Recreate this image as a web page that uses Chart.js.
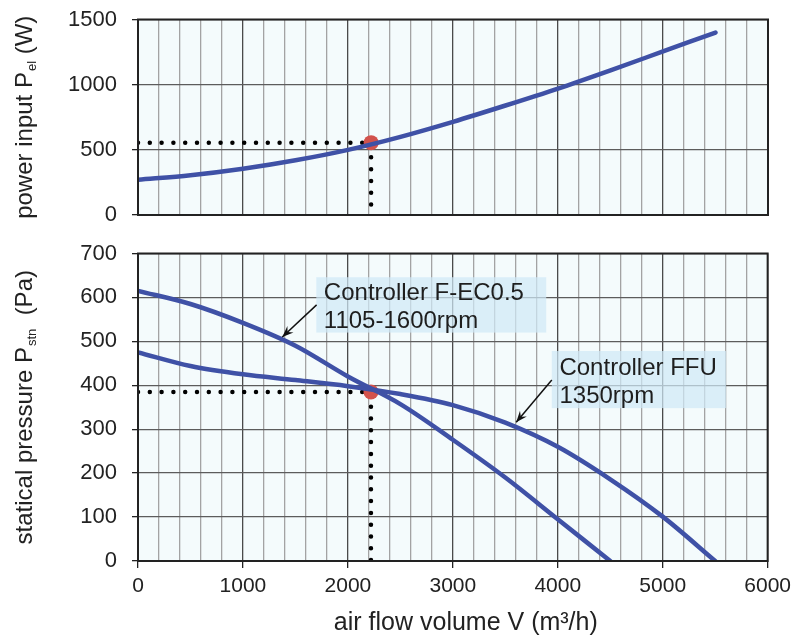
<!DOCTYPE html>
<html><head><meta charset="utf-8">
<script src="https://cdn.jsdelivr.net/npm/chart.js@4/dist/chart.umd.min.js"></script>
<style>
html,body{margin:0;padding:0;background:#fff;width:797px;height:639px;overflow:hidden;}
canvas{position:absolute;left:0;}
#c1{top:0;}
#c2{top:232px;}
</style></head><body>
<canvas id="c1" width="797" height="240"></canvas>
<canvas id="c2" width="797" height="407"></canvas>
<script>
// ---- data ----
const flow = [0, 500, 1000, 1500, 2000, 2500, 3000, 3500, 4000, 4500, 5000, 5500];
const powerInput = [270, 305, 355, 420, 500, 600, 715, 840, 970, 1110, 1255, 1400];
const flowFEC = [0, 500, 1000, 1500, 2000, 2500, 3000, 3500, 4000, 4500];
const pressureFEC = [615, 585, 542, 490, 420, 357, 276, 190, 95, 0];
const pressureFFU = [475, 444, 425, 412, 398, 380, 355, 315, 260, 186, 101, 0];
const opFlow = 2220;
const opPower = 555;
const opPressure = 385;
const xMax = 6000;
const powerMax = 1500, powerStep = 500;
const pressureMax = 700, pressureStep = 100;
const topTitle = ['power input P', 'el', ' (W)'];
const bottomTitle = ['statical pressure P', 'stn', '  (Pa)'];
const xTitle = 'air flow volume V (m\u00B3/h)';
const noteFEC = ['Controller F-EC0.5', '1105-1600rpm'];
const noteFFU = ['Controller FFU', '1350rpm'];

// ---- styling ----
const FONT = '"Liberation Sans", Arial, Helvetica, sans-serif';
const BLUE = '#3f51a6';
const RED = '#d2524c';
const PLOT_BG = '#f4fbfc';
const LEFT = 138, RIGHT_PAD = 797 - 768;

const pts = (xs, ys) => xs.map((x, i) => ({x, y: ys[i]}));

function xScale(showLabels) {
  return {
    type: 'linear', min: 0, max: xMax,
    ticks: {
      display: showLabels, stepSize: 200, autoSkip: false, maxRotation: 0,
      color: '#222', font: {family: FONT, size: 21}, padding: 6,
      callback: v => (Math.round(v) % 1000 === 0 ? String(v) : '')
    },
    grid: {
      color: c => (c.tick && Math.round(c.tick.value) % 1000 === 0 ? '#4a4a4a' : '#a3a3a3'),
      lineWidth: 1.3,
      drawTicks: showLabels, tickLength: 7,
      tickColor: c => (c.tick && Math.round(c.tick.value) % 1000 === 0 ? '#222' : 'rgba(0,0,0,0)')
    },
    border: {display: true, color: '#222', width: 2},
    title: {display: false},
    afterFit: s => { s.height = showLabels ? 78 : 25; }
  };
}
function yScale(max, step) {
  return {
    type: 'linear', min: 0, max: max,
    ticks: {stepSize: step, color: '#222', font: {family: FONT, size: 22, lineHeight: 0.2}, padding: 15,
            callback: v => String(v)},
    grid: {color: '#5c5c5c', lineWidth: 1.3, tickLength: 6, tickColor: '#222'},
    border: {display: true, color: '#222', width: 2},
    afterFit: s => { s.width = LEFT; }
  };
}

function drawYTitle(chart, parts, cx) {
  const ctx = chart.ctx, a = chart.chartArea;
  ctx.save();
  ctx.translate(cx, (a.top + a.bottom) / 2);
  ctx.rotate(-Math.PI / 2);
  ctx.fillStyle = '#222';
  ctx.textBaseline = 'alphabetic';
  const big = '24px ' + FONT, small = '13px ' + FONT;
  ctx.font = big; const w1 = ctx.measureText(parts[0]).width; const w3 = ctx.measureText(parts[2]).width;
  ctx.font = small; const w2 = ctx.measureText(parts[1]).width;
  let x = -(w1 + w2 + w3 + 1) / 2;
  ctx.font = big; ctx.fillText(parts[0], x, 0); x += w1;
  ctx.font = small; ctx.fillText(parts[1], x + 1, 4); x += w2 + 1;
  ctx.font = big; ctx.fillText(parts[2], x, 0);
  ctx.restore();
}

function drawXTitle(chart, text, shift) {
  const ctx = chart.ctx, a = chart.chartArea;
  ctx.save();
  ctx.fillStyle = '#222';
  ctx.font = '25px ' + FONT;
  ctx.textAlign = 'center';
  ctx.textBaseline = 'alphabetic';
  ctx.fillText(text, (a.left + a.right) / 2 + shift, chart.height - 9);
  ctx.restore();
}

function drawNote(chart, note) {
  const ctx = chart.ctx, xs = chart.scales.x, ys = chart.scales.y;
  const bx1 = xs.getPixelForValue(note.box[0]), bx2 = xs.getPixelForValue(note.box[1]);
  const by1 = ys.getPixelForValue(note.box[2]), by2 = ys.getPixelForValue(note.box[3]);
  ctx.save();
  ctx.fillStyle = 'rgba(208,233,246,0.72)';
  ctx.fillRect(bx1, by1, bx2 - bx1, by2 - by1);
  ctx.fillStyle = '#1e1e1e';
  ctx.font = '24px ' + FONT;
  ctx.textBaseline = 'alphabetic';
  const tx = xs.getPixelForValue(note.text[0]);
  note.lines.forEach((t, i) => ctx.fillText(t, tx, ys.getPixelForValue(note.text[1 + i])));
  // arrow
  const ax = xs.getPixelForValue(note.arrow[0]), ay = ys.getPixelForValue(note.arrow[1]);
  const hx = xs.getPixelForValue(note.arrow[2]), hy = ys.getPixelForValue(note.arrow[3]);
  ctx.strokeStyle = '#111'; ctx.lineWidth = 1.5;
  ctx.beginPath(); ctx.moveTo(ax, ay); ctx.lineTo(hx, hy); ctx.stroke();
  const ang = Math.atan2(hy - ay, hx - ax), L = 12, W = 0.38;
  ctx.fillStyle = '#111';
  ctx.beginPath();
  ctx.moveTo(hx, hy);
  ctx.lineTo(hx - L * Math.cos(ang - W), hy - L * Math.sin(ang - W));
  ctx.lineTo(hx - L * 0.6 * Math.cos(ang), hy - L * 0.6 * Math.sin(ang));
  ctx.lineTo(hx - L * Math.cos(ang + W), hy - L * Math.sin(ang + W));
  ctx.closePath(); ctx.fill();
  ctx.restore();
}

const framePlugin = {
  id: 'frame',
  beforeDraw(chart) {
    const a = chart.chartArea, ctx = chart.ctx;
    ctx.save(); ctx.fillStyle = PLOT_BG; ctx.fillRect(a.left, a.top, a.right - a.left, a.bottom - a.top); ctx.restore();
  },
  afterDraw(chart, args, opts) {
    const a = chart.chartArea, ctx = chart.ctx;
    ctx.save(); ctx.strokeStyle = '#222'; ctx.lineWidth = 2;
    ctx.strokeRect(a.left, a.top, a.right - a.left, a.bottom - a.top); ctx.restore();
    if (opts.title) drawYTitle(chart, opts.title, 32);
    if (opts.xTitle) drawXTitle(chart, opts.xTitle, 13);
  }
};
const notesPlugin = {
  id: 'notes',
  afterDatasetsDraw(chart, args, opts) { (opts.list || []).forEach(n => drawNote(chart, n)); }
};

function dotted(data) {
  return {data, borderColor: '#000', borderWidth: 4.5, borderDash: [0, 11.8], borderCapStyle: 'round',
          pointRadius: 0, fill: false, tension: 0};
}
function curve(data) {
  return {data, borderColor: BLUE, borderWidth: 4.5, pointRadius: 0, fill: false,
          cubicInterpolationMode: 'monotone', borderCapStyle: 'round'};
}
function opPoint(y) {
  return {data: [{x: opFlow, y}], showLine: false, pointRadius: 7.5, pointBackgroundColor: RED,
          pointBorderWidth: 0, borderColor: RED};
}

const common = (title, pad, xt) => ({
  responsive: false, animation: false, devicePixelRatio: 1,
  layout: {padding: {left: 0, right: RIGHT_PAD, top: pad, bottom: 0}},
  plugins: {legend: {display: false}, tooltip: {enabled: false}, frame: {title, xTitle: xt}},
  events: []
});

new Chart(document.getElementById('c1'), {
  type: 'line',
  data: {datasets: [
    curve(pts(flow, powerInput)),
    opPoint(opPower),
    dotted([{x: 0, y: opPower}, {x: opFlow, y: opPower}, {x: opFlow, y: 0}])
  ]},
  options: Object.assign(common(topTitle, 19.5, null), {
    scales: {x: xScale(false), y: yScale(powerMax, powerStep)}
  }),
  plugins: [framePlugin]
});

const opts2 = common(bottomTitle, 21.5, xTitle);
opts2.plugins.notes = {list: [
  {box: [1699, 3890, 646, 520], text: [1771, 594, 530], lines: noteFEC, arrow: [1702, 583, 1375, 510]},
  {box: [3943, 5604, 478, 348], text: [4016, 423, 359], lines: noteFFU, arrow: [3943, 412, 3604, 316]}
]};
opts2.scales = {x: xScale(true), y: yScale(pressureMax, pressureStep)};
new Chart(document.getElementById('c2'), {
  type: 'line',
  data: {datasets: [
    curve(pts(flowFEC, pressureFEC)),
    curve(pts(flow, pressureFFU)),
    opPoint(opPressure),
    dotted([{x: 0, y: opPressure}, {x: opFlow, y: opPressure}, {x: opFlow, y: 0}])
  ]},
  options: opts2,
  plugins: [framePlugin, notesPlugin]
});
</script>
</body></html>
